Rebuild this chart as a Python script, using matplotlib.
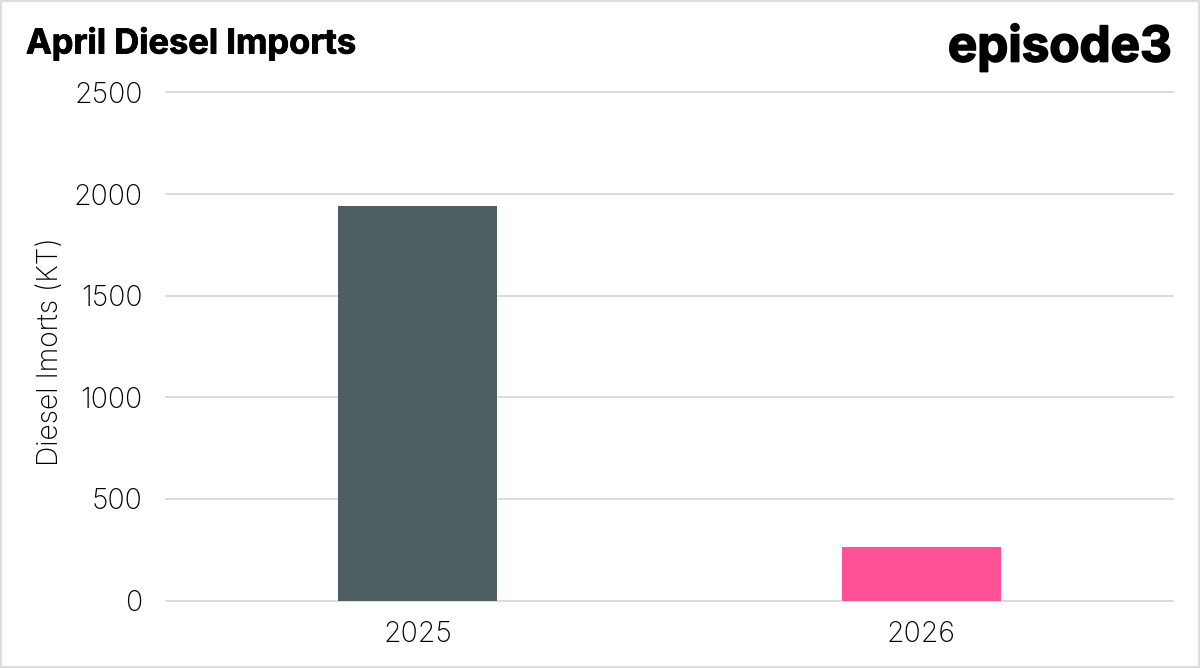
import matplotlib
matplotlib.use("Agg")
import matplotlib.pyplot as plt
import matplotlib.patheffects as pe
from matplotlib.patches import Rectangle

years = ["2025", "2026"]
imports_kt = [1939, 264]
bar_colors = ["#4e5f62", "#ff5195"]
y_ticks = [0, 500, 1000, 1500, 2000, 2500]

W, H = 1200, 668
plt.rcParams['font.family'] = ['Inter', 'DejaVu Sans']

fig = plt.figure(figsize=(W / 100, H / 100), dpi=100, facecolor="white")
ax = fig.add_axes([166 / W, 1 - 600.5 / H, (1173 - 166) / W, 508 / H])

ax.bar(years, imports_kt, width=0.315, color=bar_colors, zorder=3)
ax.set_xlim(-0.5, 1.5)
ax.set_ylim(0, 2500)
ax.set_yticks(y_ticks)
ax.grid(axis="y", color="#d9d9d9", linewidth=1.3, zorder=0)
for g in ax.get_ygridlines():
    g.set_clip_on(False)
ax.set_axisbelow(True)
for s in ax.spines.values():
    s.set_visible(False)
ax.tick_params(axis="both", length=0, labelsize=20.5, labelcolor="black")
ax.tick_params(axis="x", pad=15)
ax.tick_params(axis="y", pad=17)
for lab in ax.get_xticklabels() + ax.get_yticklabels():
    lab.set_fontweight("light")
ax.set_ylabel("Diesel Imorts (KT)", fontsize=20.3, fontweight="light", color="black")
ax.yaxis.set_label_coords((64 - 166) / (1173 - 166), 0.49)

# thicker outline to get close to the heavy brand lettering
title = fig.text(26 / W, 1 - 44 / H, "April Diesel Imports", fontsize=24.8, fontweight="bold",
                 color="black", va="center", ha="left")
title.set_path_effects([pe.withStroke(linewidth=0.6, foreground="black")])
logo = fig.text(1172 / W, 1 - 48 / H, "episode3", fontsize=35.5, fontweight="bold",
                color="black", va="center", ha="right")
logo.set_path_effects([pe.withStroke(linewidth=1.2, foreground="black")])

# light frame round the picture
fig.add_artist(Rectangle((0, 0), 1, 1, transform=fig.transFigure, fill=False,
                         edgecolor="#dcdcdc", linewidth=3))

fig.savefig("out.png", dpi=100)
